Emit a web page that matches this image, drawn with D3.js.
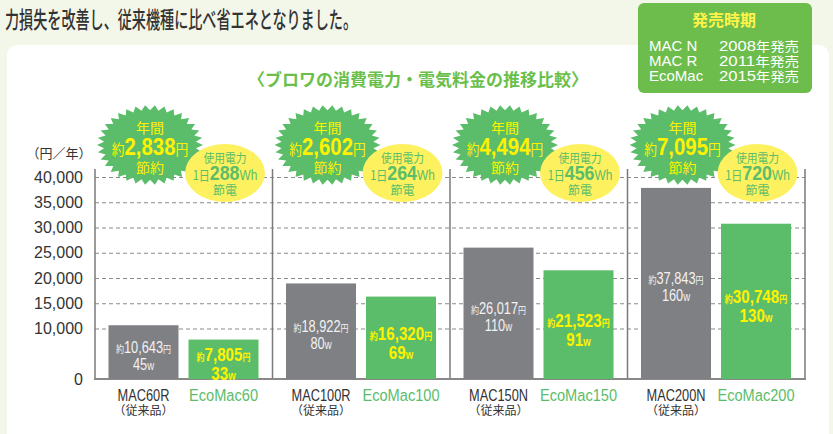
<!DOCTYPE html>
<html>
<head>
<meta charset="utf-8">
<script src="https://cdn.jsdelivr.net/npm/d3@7"></script>
<style>
  body { margin: 0; background: #f3f7e9; }
  svg { display: block; }
</style>
</head>
<body>
<svg id="chart" width="833" height="434" font-family="Noto Sans CJK JP, sans-serif"></svg>
<script>
"use strict";

// data
var oldModels = ["MAC60R", "MAC100R", "MAC150N", "MAC200N"];
var ecoModels = ["EcoMac60", "EcoMac100", "EcoMac150", "EcoMac200"];
var oldCost = [10643, 18922, 26017, 37843];
var ecoCost = [7805, 16320, 21523, 30748];
var oldWatt = [45, 80, 110, 160];
var ecoWatt = [33, 69, 91, 130];
var yearSaving = [2838, 2602, 4494, 7095];
var daySavingWh = [288, 264, 456, 720];
var yTicks = [0, 10000, 15000, 20000, 25000, 30000, 35000, 40000];
var gridTicks = [10000, 15000, 20000, 25000, 30000, 35000, 40000];
var releaseNames = ["MAC N", "MAC R", "EcoMac"];
var releaseYears = ["2008", "2011", "2015"];

var C = {
    GREEN: "#5bbd69",
    LEGEND_GREEN: "#6cbd4b",
    GRAY: "#7f8083",
    YELLOW: "#fff200",
    PALE_YELLOW: "#fdf160",
    TEXT: "#333333",
    SANS: "Liberation Sans, sans-serif",
    JP: "Noto Sans CJK JP, sans-serif",
    LEFT: 95, RIGHT: 805, TOP: 169, BOTTOM: 379
};

var svg = d3.select("#chart");
var fmt = d3.format(",");

/** Append a horizontally condensed text centred on (cx, cy). */
function condensedText(parent, cx, cy, sx) {
    return parent.append("text")
        .attr("transform", "translate(" + cx + "," + cy + ") scale(" + sx + ",1)")
        .attr("text-anchor", "middle");
}

// white rounded panel
svg.append("rect")
    .attr("x", 7).attr("y", 45)
    .attr("width", 822).attr("height", 420)
    .attr("rx", 10)
    .attr("fill", "#ffffff");

// heading
svg.append("text")
    .attr("x", 5).attr("y", 28)
    .attr("font-size", 23)
    .attr("font-weight", 500)
    .attr("fill", C.TEXT)
    .attr("textLength", 352)
    .attr("lengthAdjust", "spacingAndGlyphs")
    .text("力損失を改善し、従来機種に比べ省エネとなりました。");

// release legend box
var legend = svg.append("g").attr("class", "legend");
legend.append("rect")
    .attr("x", 638).attr("y", 3)
    .attr("width", 174).attr("height", 90)
    .attr("rx", 6)
    .attr("fill", C.LEGEND_GREEN);
legend.append("text")
    .attr("x", 724).attr("y", 26)
    .attr("text-anchor", "middle")
    .attr("font-size", 16).attr("font-weight", "bold")
    .attr("fill", "#fff34a")
    .text("発売時期");
releaseNames.forEach(function(name, i) {
    legend.append("text")
        .attr("x", 649).attr("y", 51 + i * 15)
        .attr("font-family", C.SANS)
        .attr("font-size", 15).attr("fill", "#ffffff")
        .text(name);
    var yr = legend.append("text")
        .attr("x", 719).attr("y", 51 + i * 15)
        .attr("fill", "#ffffff")
        .attr("textLength", 80)
        .attr("lengthAdjust", "spacingAndGlyphs");
    yr.append("tspan").attr("font-family", C.SANS).attr("font-size", 15).text(releaseYears[i]);
    yr.append("tspan").attr("font-size", 13).text("年発売");
});

// subtitle
svg.append("text")
    .attr("x", 418).attr("y", 86)
    .attr("text-anchor", "middle")
    .attr("font-size", 17).attr("font-weight", "bold")
    .attr("fill", "#6abf4b")
    .text("〈ブロワの消費電力・電気料金の推移比較〉");

// scales
var y = d3.scaleLinear().domain([0, 40000]).range([C.BOTTOM, 177]);
var x = d3.scaleBand().domain(oldModels).range([C.LEFT, C.RIGHT]);
var inner = d3.scaleBand().domain(["old", "eco"]).range([13.5, 163.5]).paddingInner(0.125);

// grid
var grid = svg.append("g")
    .attr("transform", "translate(" + C.LEFT + ",0)")
    .call(d3.axisLeft(y).tickValues(gridTicks).tickSize(-(C.RIGHT - C.LEFT)).tickFormat(""));
grid.select(".domain").remove();
grid.selectAll("line")
    .attr("stroke", "#8a8a8a")
    .attr("stroke-width", 1)
    .attr("stroke-dasharray", "4,3");

// tick labels
var yAxis = svg.append("g")
    .attr("transform", "translate(" + (C.LEFT - 9) + ",0)")
    .call(d3.axisLeft(y).tickValues(yTicks).tickSize(0).tickFormat(fmt));
yAxis.select(".domain").remove();
yAxis.attr("font-family", C.SANS).attr("font-size", 16);
yAxis.selectAll("text").attr("fill", C.TEXT);

svg.append("text")
    .attr("x", 59).attr("y", 158)
    .attr("text-anchor", "middle")
    .attr("font-size", 13).attr("fill", C.TEXT)
    .text("（円／年）");

// frame lines
var frame = svg.append("g").attr("class", "frame");
[C.LEFT, C.RIGHT].concat(oldModels.slice(1).map(function(d) { return x(d); })).forEach(function(xx) {
    frame.append("line")
        .attr("x1", xx).attr("x2", xx)
        .attr("y1", C.TOP).attr("y2", C.BOTTOM)
        .attr("stroke", "#7a7a7a").attr("stroke-width", 1.5);
});

// bars
var groups = svg.selectAll("g.group")
    .data(oldModels.map(function(m, i) { return i; }))
    .enter().append("g")
    .attr("class", "group")
    .attr("transform", function(i) { return "translate(" + x(oldModels[i]) + ",0)"; });

groups.append("rect")
    .attr("x", inner("old"))
    .attr("width", inner.bandwidth())
    .attr("y", function(i) { return y(oldCost[i]); })
    .attr("height", function(i) { return y(0) - y(oldCost[i]); })
    .attr("fill", C.GRAY);

groups.append("rect")
    .attr("x", inner("eco"))
    .attr("width", inner.bandwidth())
    .attr("y", function(i) { return y(ecoCost[i]); })
    .attr("height", function(i) { return y(0) - y(ecoCost[i]); })
    .attr("fill", C.GREEN);

frame.append("line")
    .attr("x1", C.LEFT - 1).attr("x2", C.RIGHT + 1)
    .attr("y1", C.BOTTOM).attr("y2", C.BOTTOM)
    .attr("stroke", "#888888").attr("stroke-width", 2);

// labels inside bars
function barLabel(g, cx, cy, cost, watt, big, color) {
    var t1 = condensedText(g, cx, cy, 0.8)
        .attr("fill", color)
        .attr("font-family", C.SANS)
        .attr("font-weight", big ? "bold" : "normal");
    t1.append("tspan").attr("font-size", 10).attr("font-family", C.JP).text("約");
    t1.append("tspan").attr("font-size", big ? 19 : 16).text(fmt(cost));
    t1.append("tspan").attr("font-size", 10).attr("font-family", C.JP).text("円");
    var t2 = condensedText(g, cx, cy + (big ? 19 : 17), 0.8)
        .attr("fill", color)
        .attr("font-family", C.SANS)
        .attr("font-weight", big ? "bold" : "normal");
    t2.append("tspan").attr("font-size", big ? 19 : 16).text(watt);
    t2.append("tspan").attr("font-size", 12).text("w");
}

groups.each(function(i) {
    var g = d3.select(this);
    var half = inner.bandwidth() / 2;
    var midOld = (y(oldCost[i]) + y(0)) / 2;
    var midEco = (y(ecoCost[i]) + y(0)) / 2;
    barLabel(g, inner("old") + half, midOld + 1, oldCost[i], oldWatt[i], false, "#f2f2f2");
    barLabel(g, inner("eco") + half, midEco + 2, ecoCost[i], ecoWatt[i], true, C.YELLOW);

    // category labels
    condensedText(g, inner("old") + half, 401, 0.8)
        .attr("font-family", C.SANS)
        .attr("font-size", 16).attr("fill", C.TEXT)
        .text(oldModels[i]);
    g.append("text")
        .attr("x", inner("old") + half).attr("y", 415)
        .attr("text-anchor", "middle")
        .attr("font-size", 12).attr("fill", C.TEXT)
        .text("（従来品）");
    condensedText(g, inner("eco") + half, 401, 0.86)
        .attr("font-family", C.SANS)
        .attr("font-size", 17).attr("fill", C.GREEN)
        .text(ecoModels[i]);
});

// starburst badges
function burstPath(rx, ry, spikes, depth) {
    var pts = [];
    for (var k = 0; k < spikes * 2; k++) {
        var a = Math.PI * k / spikes;
        var f = k % 2 === 0 ? 1 : 1 - depth;
        pts.push([Math.cos(a) * rx * f, Math.sin(a) * ry * f]);
    }
    return d3.line()(pts) + "Z";
}

groups.each(function(i) {
    var g = d3.select(this);
    var bx = 55, by = 145;
    g.append("path")
        .attr("transform", "translate(" + bx + "," + by + ")")
        .attr("d", burstPath(53, 40, 34, 0.13))
        .attr("fill", C.GREEN);
    g.append("text")
        .attr("x", bx).attr("y", by - 12)
        .attr("text-anchor", "middle")
        .attr("font-size", 14).attr("fill", C.YELLOW)
        .text("年間");
    var t = condensedText(g, bx, by + 10, 0.85)
        .attr("fill", C.YELLOW);
    t.append("tspan").attr("font-size", 15).text("約");
    t.append("tspan").attr("font-family", C.SANS)
        .attr("font-size", 24).attr("font-weight", "bold").text(fmt(yearSaving[i]));
    t.append("tspan").attr("font-size", 15).text("円");
    g.append("text")
        .attr("x", bx).attr("y", by + 28)
        .attr("text-anchor", "middle")
        .attr("font-size", 14).attr("fill", C.YELLOW)
        .text("節約");

    // pale yellow power bubble
    var ex = 130, ey = 173;
    g.append("ellipse")
        .attr("cx", ex).attr("cy", ey)
        .attr("rx", 40).attr("ry", 29)
        .attr("fill", C.PALE_YELLOW);
    condensedText(g, ex, ey - 10, 0.9)
        .attr("font-size", 12).attr("fill", C.GREEN)
        .text("使用電力");
    var w = condensedText(g, ex, ey + 7, 0.85)
        .attr("fill", C.GREEN);
    w.append("tspan").attr("font-size", 13).text("1日");
    w.append("tspan").attr("font-family", C.SANS)
        .attr("font-size", 21).attr("font-weight", "bold").text(daySavingWh[i]);
    w.append("tspan").attr("font-family", C.SANS)
        .attr("font-size", 14).text("Wh");
    g.append("text")
        .attr("x", ex).attr("y", ey + 22)
        .attr("text-anchor", "middle")
        .attr("font-size", 12).attr("fill", C.GREEN)
        .text("節電");
});
</script>
</body>
</html>
